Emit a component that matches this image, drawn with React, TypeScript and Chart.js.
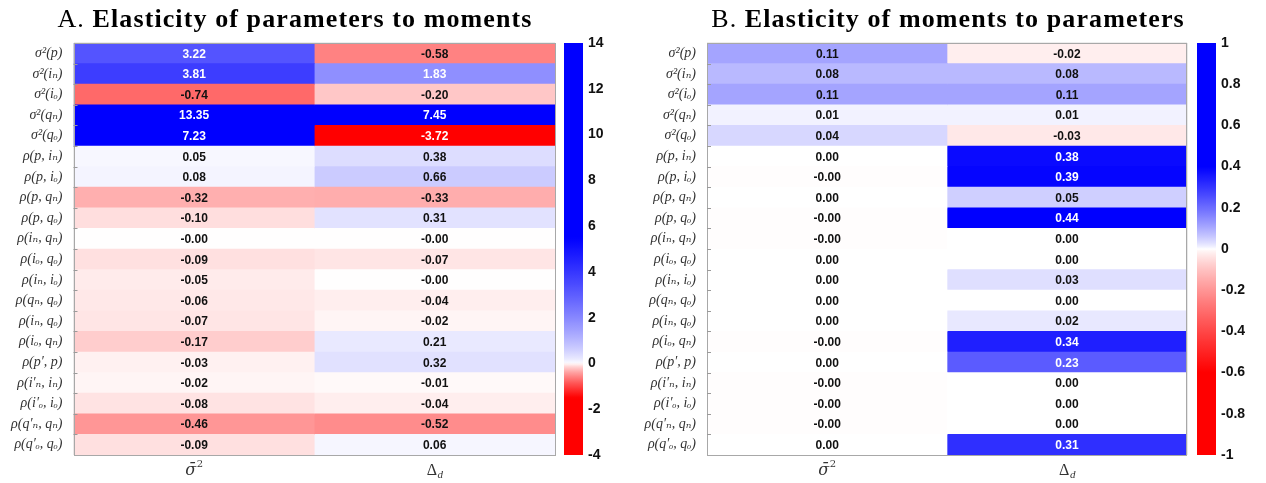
import React, { useEffect, useRef } from 'react';
import { Chart, registerables } from 'chart.js';
Chart.register(...registerables);

const rowLabels = [
  'σ²(p)', 'σ²(iₙ)', 'σ²(iₒ)', 'σ²(qₙ)', 'σ²(qₒ)',
  'ρ(p, iₙ)', 'ρ(p, iₒ)', 'ρ(p, qₙ)', 'ρ(p, qₒ)',
  'ρ(iₙ, qₙ)', 'ρ(iₒ, qₒ)', 'ρ(iₙ, iₒ)', 'ρ(qₙ, qₒ)', 'ρ(iₙ, qₒ)', 'ρ(iₒ, qₙ)',
  'ρ(p′, p)', 'ρ(i′ₙ, iₙ)', 'ρ(i′ₒ, iₒ)', 'ρ(q′ₙ, qₙ)', 'ρ(q′ₒ, qₒ)',
];

const colLabels = [
  { main: 'σ̄', sup: '2' },
  { main: 'Δ', sub: 'd' },
];

const titleA = { prefix: 'A. ', bold: 'Elasticity of parameters to moments' };
const titleB = { prefix: 'B. ', bold: 'Elasticity of moments to parameters' };

// Panel A values
const aSigma = [3.22, 3.81, -0.74, 13.35, 7.23, 0.05, 0.08, -0.32, -0.10, -0.001, -0.09, -0.05, -0.06, -0.07, -0.17, -0.03, -0.02, -0.08, -0.46, -0.09];
const aDelta = [-0.58, 1.83, -0.20, 7.45, -3.72, 0.38, 0.66, -0.33, 0.31, -0.001, -0.07, -0.001, -0.04, -0.02, 0.21, 0.32, -0.01, -0.04, -0.52, 0.06];

// Panel B values
const bSigma = [0.11, 0.08, 0.11, 0.01, 0.04, 0.0, -0.001, 0.0, -0.001, -0.001, 0.0, 0.0, 0.0, 0.0, -0.001, 0.0, -0.001, -0.001, -0.001, 0.0];
const bDelta = [-0.02, 0.08, 0.11, 0.01, -0.03, 0.38, 0.39, 0.05, 0.44, 0.0, 0.0, 0.03, 0.0, 0.02, 0.34, 0.23, 0.0, 0.0, 0.0, 0.31];

const cbTicksA = [-4, -2, 0, 2, 4, 6, 8, 10, 12, 14];
const cbTicksB = [-1, -0.8, -0.6, -0.4, -0.2, 0, 0.2, 0.4, 0.6, 0.8, 1];

type CMap = { min: number; max: number; posSat: number; negSat: number; gamma: number };
const cmapA: CMap = { min: -4, max: 14, posSat: 5.5, negSat: 1.5, gamma: 0.75 };
const cmapB: CMap = { min: -1, max: 1, posSat: 0.4, negSat: 0.6, gamma: 0.8 };

function level(v: number, m: CMap) {
  const sat = v >= 0 ? m.posSat : m.negSat;
  return Math.pow(Math.min(1, Math.abs(v) / sat), m.gamma);
}
function colorOf(v: number, m: CMap) {
  const t = level(v, m);
  const c = Math.round(255 * (1 - t));
  return v >= 0 ? `rgb(${c},${c},255)` : `rgb(255,${c},${c})`;
}
function textColor(v: number, m: CMap) {
  const t = level(v, m);
  if (v > 0 && t > 0.42) return '#ffffff';
  if (v < 0 && t > 0.75) return '#ffffff';
  return '#111111';
}

const W = 1266;
const H = 483;

function Heatmap(props: { left: number; width: number; plotLeft: number; plotRight: number; c1: number[]; c2: number[]; m: CMap }) {
  const ref = useRef<HTMLCanvasElement | null>(null);
  useEffect(() => {
    const canvas = ref.current!;
    const { c1, c2, m } = props;
    const cols = [c1, c2];
    const cellPlugin = {
      id: 'cells',
      afterDatasetsDraw(chart: any) {
        const ctx = chart.ctx;
        ctx.save();
        ctx.font = 'bold 12px "Liberation Sans", Arial, sans-serif';
        ctx.textAlign = 'center';
        ctx.textBaseline = 'middle';
        chart.data.datasets.forEach((_ds: any, di: number) => {
          const meta = chart.getDatasetMeta(di);
          meta.data.forEach((el: any, i: number) => {
            const p = el.getProps(['x', 'y', 'base'], true);
            const v = cols[di][i];
            ctx.fillStyle = textColor(v, m);
            ctx.fillText(v.toFixed(2), (p.x + p.base) / 2, p.y + 1);
          });
        });
        ctx.restore();
      },
      afterDraw(chart: any) {
        const ctx = chart.ctx;
        const a = chart.chartArea;
        ctx.save();
        ctx.strokeStyle = '#a8a8a8';
        ctx.lineWidth = 1;
        ctx.strokeRect(Math.round(a.left) + 0.5, Math.round(a.top) + 0.5, Math.round(a.right - a.left) - 1, Math.round(a.bottom - a.top));
        const ys = chart.scales.y;
        ctx.strokeStyle = '#9a9a9a';
        for (let i = 1; i < rowLabels.length; i++) {
          const y = Math.round((ys.getPixelForValue(i - 1) + ys.getPixelForValue(i)) / 2) + 0.5;
          ctx.beginPath();
          ctx.moveTo(a.left, y);
          ctx.lineTo(a.left + 4, y);
          ctx.stroke();
        }
        const xs = chart.scales.x;
        const by = a.bottom + 20;
        colLabels.forEach((lab: any, k: number) => {
          const cx = xs.getPixelForValue(k + 0.5);
          ctx.fillStyle = '#333';
          ctx.textBaseline = 'alphabetic';
          ctx.textAlign = 'left';
          if (lab.sup) {
            ctx.font = 'italic 16px "DejaVu Serif", "Liberation Serif", serif';
            const w1 = ctx.measureText(lab.main).width;
            ctx.font = '10px "DejaVu Serif", serif';
            const w2 = ctx.measureText(lab.sup).width;
            const x0 = cx - (w1 + w2) / 2;
            ctx.font = 'italic 16px "DejaVu Serif", "Liberation Serif", serif';
            ctx.fillText(lab.main, x0, by);
            ctx.font = '10px "DejaVu Serif", serif';
            ctx.fillText(lab.sup, x0 + w1 + 0.5, by - 8);
          } else {
            ctx.font = '16px "Liberation Serif", serif';
            const w1 = ctx.measureText(lab.main).width;
            ctx.font = 'italic 11px "Liberation Serif", serif';
            const w2 = ctx.measureText(lab.sub).width;
            const x0 = cx - (w1 + w2) / 2;
            ctx.font = '16px "Liberation Serif", serif';
            ctx.fillText(lab.main, x0, by);
            ctx.font = 'italic 11px "Liberation Serif", serif';
            ctx.fillText(lab.sub, x0 + w1 + 0.5, by + 3);
          }
        });
        ctx.restore();
      },
    };
    const chart = new Chart(canvas, {
      type: 'bar',
      data: {
        labels: rowLabels,
        datasets: cols.map((col, k) => ({
          data: col.map(() => [k, k + 1]),
          backgroundColor: col.map((v) => colorOf(v, m)),
          borderWidth: 0,
          barPercentage: 1,
          categoryPercentage: 1,
          grouped: false,
        })),
      } as any,
      options: {
        indexAxis: 'y',
        animation: false,
        responsive: false,
        maintainAspectRatio: false,
        layout: { padding: { left: props.plotLeft - 73.5, top: 43, right: props.width - props.plotRight, bottom: 0 } },
        plugins: { legend: { display: false }, tooltip: { enabled: false }, title: { display: false } },
        scales: {
          x: {
            type: 'linear', min: 0, max: 2, z: 1,
            ticks: { display: false, stepSize: 1 },
            grid: { color: 'rgba(0,0,0,0.09)', drawTicks: false },
            border: { display: false },
            afterFit: (s: any) => { s.height = 28; },
          },
          y: {
            type: 'category', z: 1,
            ticks: {
              autoSkip: false, padding: 11, color: '#333',
              font: { family: '"Liberation Serif", "DejaVu Serif", serif', style: 'italic', size: 14 },
            },
            grid: { color: 'rgba(0,0,0,0.07)', drawTicks: false, offset: true },
            border: { display: false },
            afterFit: (s: any) => { s.width = 73.5; },
          },
        },
      } as any,
      plugins: [cellPlugin],
    });
    return () => chart.destroy();
  }, []);
  return (
    <canvas ref={ref} width={props.width} height={H}
      style={{ position: 'absolute', left: props.left, top: 0, width: props.width, height: H }} />
  );
}

function ColorBar(props: { left: number; width: number; barWidth: number; m: CMap; ticks: number[] }) {
  const ref = useRef<HTMLCanvasElement | null>(null);
  useEffect(() => {
    const canvas = ref.current!;
    const { m, ticks } = props;
    const chart = new Chart(canvas, {
      type: 'bar',
      data: {
        labels: [''],
        datasets: [{
          data: [[m.min, m.max]],
          borderWidth: 0,
          barPercentage: 1,
          categoryPercentage: 1,
          backgroundColor: (c: any) => {
            const ch = c.chart;
            const a = ch.chartArea;
            if (!a) return '#fff';
            const ys = ch.scales.y;
            const g = ch.ctx.createLinearGradient(0, ys.getPixelForValue(m.min), 0, ys.getPixelForValue(m.max));
            const N = 200;
            for (let i = 0; i <= N; i++) {
              const v = m.min + (m.max - m.min) * i / N;
              g.addColorStop(i / N, colorOf(v, m));
            }
            return g;
          },
        }],
      } as any,
      options: {
        animation: false,
        responsive: false,
        maintainAspectRatio: false,
        layout: { padding: { left: 6, top: 43, right: 0, bottom: 28 } },
        plugins: { legend: { display: false }, tooltip: { enabled: false } },
        scales: {
          x: { display: false },
          y: {
            type: 'linear', position: 'right', min: m.min, max: m.max,
            afterBuildTicks: (s: any) => { s.ticks = ticks.map((v) => ({ value: v })); },
            ticks: {
              padding: 5, color: '#111',
              font: { family: '"Liberation Sans", Arial, sans-serif', weight: 'bold', size: 14 },
              callback: (v: any) => String(Math.round(Number(v) * 10) / 10),
            },
            grid: { display: false, drawTicks: false },
            border: { display: false },
            afterFit: (s: any) => { s.width = props.width - 6 - props.barWidth; },
          },
        },
      } as any,
    });
    return () => chart.destroy();
  }, []);
  return (
    <canvas ref={ref} width={props.width} height={H}
      style={{ position: 'absolute', left: props.left, top: 0, width: props.width, height: H }} />
  );
}

function Title(props: { left: number; width: number; t: { prefix: string; bold: string } }) {
  return (
    <div style={{
      position: 'absolute', left: props.left, top: 4, width: props.width, textAlign: 'center',
      fontFamily: '"Liberation Serif", "Times New Roman", serif', fontSize: 26, lineHeight: '30px', color: '#000',
      whiteSpace: 'nowrap', letterSpacing: '1.1px',
    }}>
      <span>{props.t.prefix}</span><b>{props.t.bold}</b>
    </div>
  );
}

export default function App() {
  return (
    <div style={{ position: 'absolute', left: 0, top: 0, width: W, height: H, background: '#fff', overflow: 'hidden' }}>
      <Heatmap left={0} width={633} plotLeft={73.5} plotRight={555} c1={aSigma} c2={aDelta} m={cmapA} />
      <Heatmap left={633} width={633} plotLeft={74} plotRight={554} c1={bSigma} c2={bDelta} m={cmapB} />
      <ColorBar left={558} width={75} barWidth={19} m={cmapA} ticks={cbTicksA} />
      <ColorBar left={1191} width={75} barWidth={19} m={cmapB} ticks={cbTicksB} />
      <Title left={0} width={590} t={titleA} />
      <Title left={633} width={630} t={titleB} />
    </div>
  );
}
